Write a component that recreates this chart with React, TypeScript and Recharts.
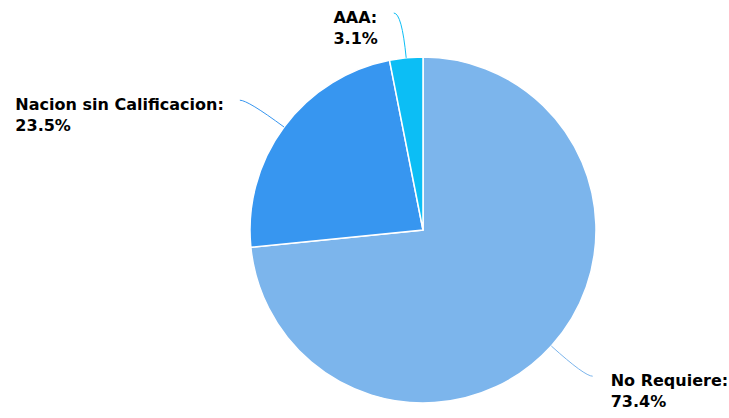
import React from 'react';
import { PieChart, Pie, Cell } from 'recharts';

const categories = ['No Requiere', 'Nacion sin Calificacion', 'AAA'];
const values = [73.4, 23.5, 3.1];
const colors = ['#7cb5ec', '#3796f0', '#0cbef5'];

const data = categories.map((name, i) => ({ name, value: values[i] }));

const RAD = Math.PI / 180;
const FONT_SIZE = 16;
const FONT = `bold ${FONT_SIZE}px "DejaVu Sans"`;

const measure = (s: string): number => {
  if (typeof document === 'undefined') return s.length * 9;
  const c = document.createElement('canvas');
  const ctx = c.getContext('2d');
  if (!ctx) return s.length * 9;
  ctx.font = FONT;
  return ctx.measureText(s).width;
};

const renderLabel = (props: any) => {
  const { cx, cy, midAngle, outerRadius, index, name, value } = props;
  const cos = Math.cos(-midAngle * RAD);
  const sin = Math.sin(-midAngle * RAD);
  const sx = cx + outerRadius * cos;
  const sy = cy + outerRadius * sin;
  const mx = cx + (outerRadius + 45) * cos;
  const my = cy + (outerRadius + 45) * sin;
  const right = cos >= 0;
  const ex = mx + (right ? 8 : -8);
  const ey = my;
  const line1 = `${name}:`;
  const line2 = `${value}%`;
  const w = Math.max(measure(line1), measure(line2));
  const tx = right ? ex + 18 : ex - 16 - w;
  const color = colors[index % colors.length];
  const textStyle = { fontFamily: 'DejaVu Sans', fontWeight: 'bold' as const, fontSize: FONT_SIZE };
  return (
    <g>
      <path d={`M${sx},${sy} Q${mx},${my} ${ex},${ey}`} stroke={color} strokeWidth={1} fill="none" />
      <text x={tx} y={ey + 4} textAnchor="start" dominantBaseline="central" style={textStyle} fill="#000">
        {line1}
      </text>
      <text x={tx} y={ey + 25} textAnchor="start" dominantBaseline="central" style={textStyle} fill="#000">
        {line2}
      </text>
    </g>
  );
};

export default function App() {
  return (
    <div style={{ position: 'absolute', left: 0, top: 0, width: 729, height: 418, background: '#fff' }}>
      <PieChart width={729} height={418} margin={{ top: 0, right: 0, bottom: 0, left: 0 }}>
        <Pie
          data={data}
          dataKey="value"
          nameKey="name"
          cx={423}
          cy={230}
          outerRadius={173}
          startAngle={90}
          endAngle={-270}
          stroke="#ffffff"
          strokeWidth={1.5}
          label={renderLabel}
          labelLine={false}
          isAnimationActive={false}
        >
          {data.map((d, i) => (
            <Cell key={d.name} fill={colors[i]} />
          ))}
        </Pie>
      </PieChart>
    </div>
  );
}
